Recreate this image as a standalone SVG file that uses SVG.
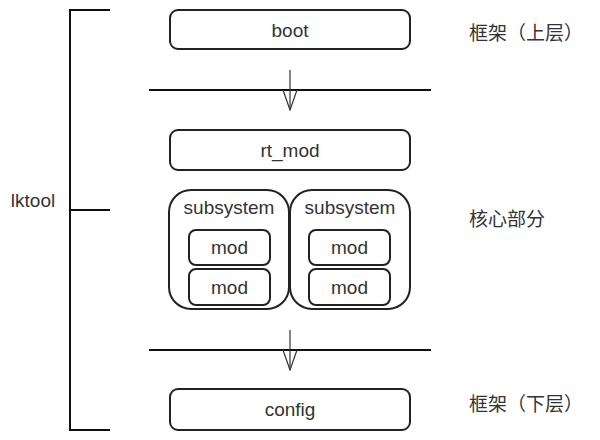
<svg xmlns="http://www.w3.org/2000/svg" width="600" height="440" viewBox="0 0 600 440">
<defs>
<style>
.box{fill:#fff;stroke:#222;stroke-width:2}
.t{font-family:"Liberation Sans",Arial,sans-serif;font-size:19px;fill:#333;text-anchor:middle}
.cn{font-family:"Noto Sans CJK SC","Noto Sans",sans-serif;font-size:19px;fill:#333}
.ln{stroke:#111;stroke-width:2;fill:none}
.ar{stroke:#333;stroke-width:1.2;fill:none}
</style>
<marker id="vh" markerUnits="userSpaceOnUse" markerWidth="22" markerHeight="16" refX="21" refY="8" orient="auto" viewBox="0 0 22 16">
<path d="M1,1 L21,8 L1,15" fill="none" stroke="#333" stroke-width="1.2"/>
</marker>
</defs>
<rect width="600" height="440" fill="#fff"/>
<g id="connectors">
<path class="ln" d="M110,10 H70 V430 H110 M70,210 H110"/>
<line class="ln" x1="149" y1="90" x2="431" y2="90"/>
<line class="ln" x1="149" y1="350" x2="431" y2="350"/>
<line class="ar" x1="290" y1="70" x2="290" y2="110" marker-end="url(#vh)"/>
<line class="ar" x1="290" y1="330" x2="290" y2="370" marker-end="url(#vh)"/>
</g>
<g id="lktool"><text class="t" x="33" y="207">lktool</text></g>
<g id="boot"><rect class="box" x="170" y="10" width="240" height="39" rx="8"/><text class="t" x="290" y="37">boot</text></g>
<g id="rt_mod"><rect class="box" x="170" y="130" width="240" height="40" rx="8"/><text class="t" x="290" y="157">rt_mod</text></g>
<g id="subsystem1"><rect class="box" x="169" y="190" width="120" height="119" rx="22"/><text class="t" x="229" y="214">subsystem</text>
<g id="mod1"><rect class="box" x="189" y="230" width="81" height="35" rx="7"/><text class="t" x="229.5" y="254">mod</text></g>
<g id="mod2"><rect class="box" x="189" y="269" width="81" height="36" rx="7"/><text class="t" x="229.5" y="294">mod</text></g>
</g>
<g id="subsystem2"><rect class="box" x="290" y="190" width="120" height="119" rx="22"/><text class="t" x="350" y="214">subsystem</text>
<g id="mod3"><rect class="box" x="309" y="230" width="81" height="35" rx="7"/><text class="t" x="349.5" y="254">mod</text></g>
<g id="mod4"><rect class="box" x="309" y="269" width="81" height="36" rx="7"/><text class="t" x="349.5" y="294">mod</text></g>
</g>
<g id="config"><rect class="box" x="170" y="389" width="240" height="41" rx="8"/><text class="t" x="290" y="416">config</text></g>
<g id="label_top"><text class="cn" x="469" y="40">框架（上层）</text></g>
<g id="label_core"><text class="cn" x="469" y="226">核心部分</text></g>
<g id="label_bottom"><text class="cn" x="469" y="411">框架（下层）</text></g>
</svg>
